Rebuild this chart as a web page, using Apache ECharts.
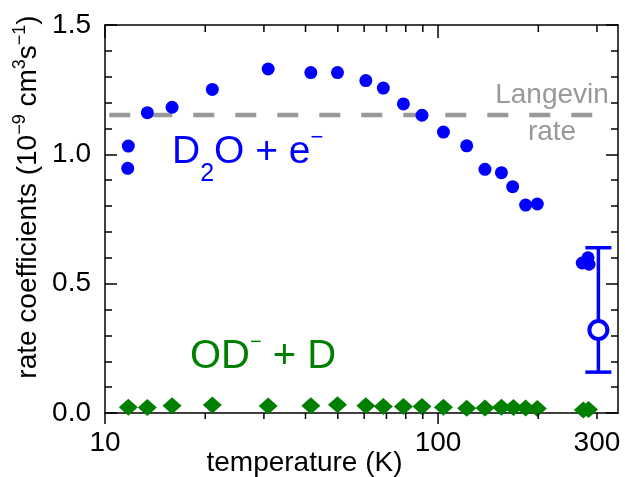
<!DOCTYPE html>
<html>
<head>
<meta charset="utf-8">
<script src="https://cdn.jsdelivr.net/npm/echarts@6/dist/echarts.min.js"></script>
<style>
  html, body { margin: 0; padding: 0; background: #fff; }
  #chart { width: 625px; height: 477px; }
</style>
</head>
<body>
<div id="chart"></div>
<script>
  // D2O + e- rate coefficients (circles)
  var tempD2O = [11.75, 11.7, 13.4, 15.9, 21.0, 30.9, 41.5, 49.9, 60.7, 68.5, 78.7, 89.5,
                 103.8, 121.9, 138.3, 155, 167.5, 183.2, 198.6, 271, 282, 284];
  var rateD2O = [1.032, 0.946, 1.161, 1.182, 1.251, 1.330, 1.316, 1.316, 1.285, 1.256, 1.195, 1.151,
                 1.086, 1.033, 0.942, 0.929, 0.875, 0.804, 0.808, 0.580, 0.600, 0.575];

  // OD- + D channel (diamonds)
  var tempOD = [11.75, 13.4, 15.9, 21.0, 30.9, 41.5, 49.9, 60.7, 68.5, 78.7, 89.5, 103.8,
                121.9, 138.3, 155, 168.4, 183.2, 198.6, 273, 283];
  var rateOD = [0.022, 0.021, 0.028, 0.031, 0.027, 0.028, 0.032, 0.028, 0.025, 0.025, 0.025, 0.022,
                0.018, 0.019, 0.022, 0.021, 0.019, 0.017, 0.012, 0.014];

  // room temperature point with error bar
  var tempErr = [303];
  var rateErr = [0.321];
  var errLow = [0.158];
  var errHigh = [0.639];

  // Langevin rate
  var langevinRate = 1.152;
  var langevinTemps = [10.3, 300];

  // axes
  var xMin = 10, xMax = 347;
  var yMin = 0, yMax = 1.5;
  var xMajorTicks = [10, 100];
  var xMinorTicks = [20, 30, 40, 50, 60, 70, 80, 90, 200, 300];
  var xLabels = [10, 100, 300];

  var FONT = '"Liberation Sans", Arial, sans-serif';
  var BLUE = '#0000ff';
  var GREEN = '#007f00';
  var GRAY = '#999999';
  var AXIS = { color: '#000', width: 1.5 };

  function zip(xs, ys) {
    return xs.map(function (x, i) { return [x, ys[i]]; });
  }

  var chart = echarts.init(document.getElementById('chart'));

  var bottomAxis = {
    type: 'log', logBase: 10, min: xMin, max: xMax, position: 'bottom',
    axisLine: { show: true, onZero: false, lineStyle: AXIS },
    axisTick: { show: false },
    axisLabel: { show: true, customValues: xLabels, margin: 16,
      fontFamily: FONT, fontSize: 28, color: '#000' },
    splitLine: { show: false },
    name: 'temperature (K)',
    nameLocation: 'middle',
    nameGap: 36,
    nameMoveOverlap: false,
    nameTextStyle: { fontFamily: FONT, fontSize: 28, color: '#000', padding: [0, 114, 0, 0] }
  };

  var topAxis = {
    type: 'log', logBase: 10, min: xMin, max: xMax, position: 'top',
    axisLine: { show: true, onZero: false, lineStyle: AXIS },
    axisTick: { show: false },
    axisLabel: { show: false },
    splitLine: { show: false }
  };

  function yAxisOf(position) {
    return {
      type: 'value', min: yMin, max: yMax, interval: 0.5, position: position,
      axisLine: { show: true, lineStyle: AXIS },
      axisTick: { show: true, inside: true, length: 12, lineStyle: AXIS },
      minorTick: { show: true, splitNumber: 5, length: 7, lineStyle: AXIS },
      axisLabel: { show: false },
      splitLine: { show: false }
    };
  }

  var leftAxis = yAxisOf('left');
  leftAxis.axisLabel = { show: true, margin: 14, fontFamily: FONT, fontSize: 28, color: '#000',
    formatter: function (v) { return v.toFixed(1); } };
  leftAxis.name = 'rate coefficients (10{sup|\u22129} cm{sup|3}s{sup|\u22121})';
  leftAxis.nameLocation = 'middle';
  leftAxis.nameRotate = 90;
  leftAxis.nameGap = 60;
  leftAxis.nameMoveOverlap = false;
  leftAxis.nameTextStyle = {
    fontFamily: FONT, fontSize: 28, color: '#000', padding: [0, 0, 0, 44],
    rich: { sup: { fontFamily: FONT, fontSize: 18, color: '#000', padding: [0, 0, 16, 0] } }
  };

  // temperature ticks: [T, rate at the frame edge, 1 = major]
  var tickData = xMajorTicks.map(function (t) { return [t, yMin, 1]; })
    .concat(xMinorTicks.map(function (t) { return [t, yMin, 0]; }));

  chart.setOption({
    animation: false,
    backgroundColor: '#fff',
    grid: { left: 105, right: 7, top: 25, bottom: 64, containLabel: false, outerBoundsMode: 'none' },
    xAxis: [bottomAxis, topAxis],
    yAxis: [leftAxis, yAxisOf('right')],
    graphic: [
      {
        type: 'text', x: 552, y: 114, z: 10,
        style: { text: 'Langevin\nrate', fill: GRAY, fontFamily: FONT, fontSize: 28,
          align: 'center', verticalAlign: 'middle', lineHeight: 37 }
      },
      {
        type: 'text', x: 172, y: 152, z: 10,
        style: {
          text: 'D{sub|2}O + e{sup|\u2212}', fill: BLUE, fontFamily: FONT, fontSize: 39,
          verticalAlign: 'middle',
          rich: {
            sub: { fill: BLUE, fontFamily: FONT, fontSize: 25, padding: [44, 0, 0, 0] },
            sup: { fill: BLUE, fontFamily: FONT, fontSize: 22, padding: [0, 0, 28, 0] }
          }
        }
      },
      {
        type: 'text', x: 190, y: 357, z: 10,
        style: {
          text: 'OD{sup|\u2212} + D', fill: GREEN, fontFamily: FONT, fontSize: 40,
          verticalAlign: 'middle',
          rich: {
            sup: { fill: GREEN, fontFamily: FONT, fontSize: 20, padding: [0, 0, 30, 0] }
          }
        }
      }
    ],
    series: [
      {
        name: 'Langevin', type: 'line', xAxisIndex: 0, yAxisIndex: 0,
        data: langevinTemps.map(function (t) { return [t, langevinRate]; }),
        symbol: 'none', silent: true, z: 1,
        lineStyle: { color: GRAY, width: 4.5, type: [21, 21], cap: 'butt' }
      },
      {
        name: 'OD- + D', type: 'scatter', xAxisIndex: 0, yAxisIndex: 0,
        data: zip(tempOD, rateOD), symbol: 'diamond', symbolSize: [19, 17], z: 3,
        itemStyle: { color: GREEN, opacity: 1 }
      },
      {
        name: 'D2O + e-', type: 'scatter', xAxisIndex: 0, yAxisIndex: 0,
        data: zip(tempD2O, rateD2O), symbol: 'circle', symbolSize: 13, z: 4,
        itemStyle: { color: BLUE, opacity: 1 }
      },
      {
        name: 'error', type: 'custom', xAxisIndex: 0, yAxisIndex: 0, z: 4,
        data: tempErr.map(function (t, i) { return [t, rateErr[i], errLow[i], errHigh[i]]; }),
        renderItem: function (params, api) {
          var x = api.value(0);
          var hi = api.coord([x, api.value(3)]);
          var lo = api.coord([x, api.value(2)]);
          var half = 13;
          var style = { stroke: BLUE, lineWidth: 3.5 };
          return {
            type: 'group',
            children: [
              { type: 'line', shape: { x1: hi[0], y1: hi[1], x2: lo[0], y2: lo[1] }, style: style },
              { type: 'line', shape: { x1: hi[0] - half, y1: hi[1], x2: hi[0] + half, y2: hi[1] }, style: style },
              { type: 'line', shape: { x1: lo[0] - half, y1: lo[1], x2: lo[0] + half, y2: lo[1] }, style: style }
            ]
          };
        }
      },
      {
        name: 'room temperature', type: 'scatter', xAxisIndex: 0, yAxisIndex: 0,
        data: zip(tempErr, rateErr), symbol: 'circle', symbolSize: 18, z: 5,
        itemStyle: { color: '#fff', borderColor: BLUE, borderWidth: 4, opacity: 1 }
      },
      {
        // temperature ticks on the log axis: outward at the bottom, inward at the top
        name: 'x ticks', type: 'custom', xAxisIndex: 0, yAxisIndex: 0,
        silent: true, clip: false, z: 6,
        data: tickData,
        renderItem: function (params, api) {
          var major = api.value(2) === 1;
          var b = api.coord([api.value(0), yMin]);
          var t = api.coord([api.value(0), yMax]);
          var style = { stroke: '#000', lineWidth: 1.5 };
          return {
            type: 'group',
            children: [
              { type: 'line', shape: { x1: b[0], y1: b[1], x2: b[0], y2: b[1] + (major ? 11 : 6) }, style: style },
              { type: 'line', shape: { x1: t[0], y1: t[1], x2: t[0], y2: t[1] + (major ? 13 : 7) }, style: style }
            ]
          };
        }
      }
    ]
  });
</script>
</body>
</html>
